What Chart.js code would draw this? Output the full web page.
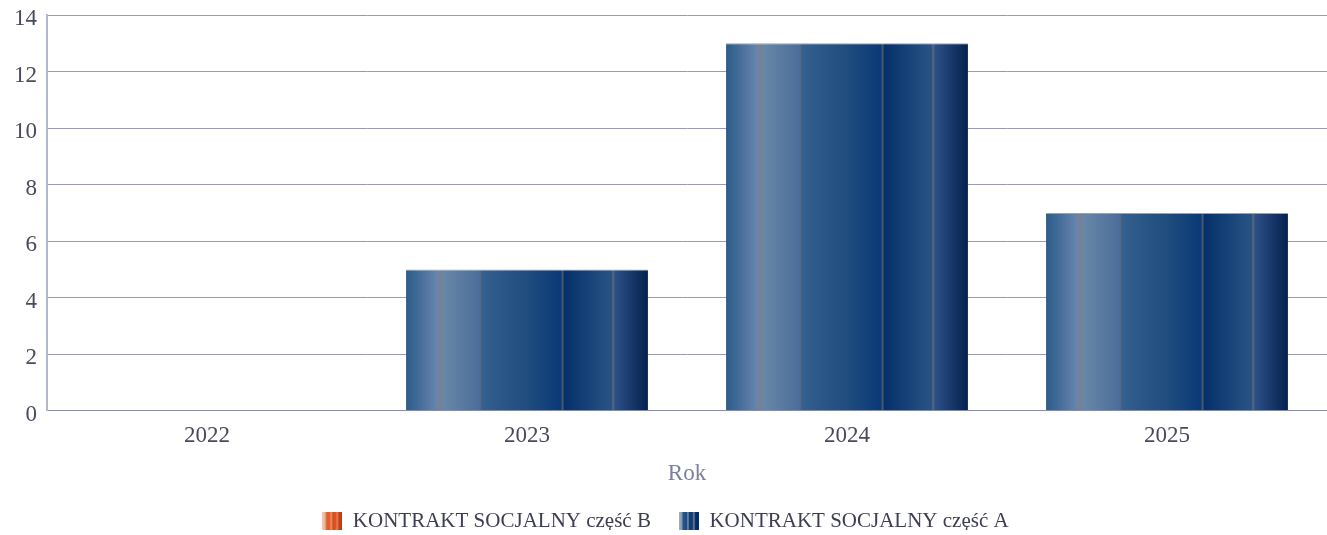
<!DOCTYPE html>
<html>
<head>
<meta charset="utf-8">
<script src="https://cdn.jsdelivr.net/npm/chart.js@4.4.1/dist/chart.umd.min.js"></script>
<style>
	html, body { margin: 0; padding: 0; background: #fff; }
	#wrap { width: 1327px; height: 535px; }
</style>
</head>
<body>
<div id="wrap"><canvas id="rokChart"></canvas></div>
<script>
var years	= ['2022', '2023', '2024', '2025'];
var partB	= [0, 0, 0, 0];
var partA	= [0, 5, 13, 7];
var yTicks	= [0, 2, 4, 6, 8, 10, 12, 14];
var labelB	= 'KONTRAKT SOCJALNY część B';
var labelA	= 'KONTRAKT SOCJALNY część A';

;(function (window, document, undefined) {
	'use strict';

	var BAR_PCT = 0.756;

	var blueStops = [
		[0, '#2a5c88'], [0.13, '#6a84ae'], [0.14, '#7b8088'], [0.152, '#6888a8'],
		[0.30, '#4c6e9a'], [0.305, '#5a6a80'], [0.315, '#34608f'], [0.50, '#204c7e'],
		[0.64, '#0a3a76'], [0.647, '#4a5a70'], [0.655, '#063069'], [0.80, '#1f4b80'],
		[0.85, '#2a5384'], [0.855, '#5a6a80'], [0.865, '#2c4f86'], [1, '#04214f']
	];
	var orangeStops = [
		[0, '#e87040'], [0.13, '#f0a078'], [0.14, '#b07060'], [0.152, '#f09870'],
		[0.30, '#e06a3a'], [0.315, '#e05a28'], [0.64, '#c84818'], [0.655, '#d05020'],
		[0.85, '#e06030'], [0.865, '#d85426'], [1, '#a83810']
	];

	function barFill(stops) {
		return function (ctx) {
			var chart = ctx.chart;
			var xs = chart.scales.x;
			if (!chart.chartArea || !xs || ctx.type !== 'data') {
				return stops[6][1];
			}
			var cx = xs.getPixelForValue(ctx.dataIndex);
			var w = xs.width / years.length * BAR_PCT;
			var g = chart.ctx.createLinearGradient(cx - w / 2, 0, cx + w / 2, 0);
			stops.forEach(function (s) { g.addColorStop(s[0], s[1]); });
			return g;
		};
	}

	// legend swatches, striped like the bars
	function swatch(cols) {
		var c = document.createElement('canvas');
		c.width = 20;
		c.height = 20;
		var x = c.getContext('2d');
		var g = x.createLinearGradient(0, 0, 20, 0);
		cols.forEach(function (s) { g.addColorStop(s[0], s[1]); });
		x.fillStyle = g;
		x.fillRect(0, 0, 20, 20);
		return c;
	}

	var swB = swatch([
		[0, '#f4c8b0'], [0.15, '#f0b090'], [0.2, '#e06030'], [0.4, '#e85c2a'],
		[0.45, '#f4c0a0'], [0.5, '#d04a1c'], [0.7, '#e05a28'], [0.75, '#f0a080'],
		[0.8, '#c84418'], [1, '#b83c12']
	]);
	var swA = swatch([
		[0, '#9db0cc'], [0.15, '#7f98bc'], [0.2, '#2a5588'], [0.4, '#1d4a80'],
		[0.45, '#a0b4d0'], [0.5, '#123d72'], [0.7, '#173f70'], [0.75, '#8ea4c4'],
		[0.8, '#0c3062'], [1, '#082a5a']
	]);

	// wide gap between legend items but keep the legend low
	var legendTrim = {
		id: 'legendTrim',
		beforeInit: function (chart) {
			var lg = chart.legend;
			var fit = lg.fit;
			var draw = lg.draw;
			lg.fit = function () {
				fit.call(this);
				this.height -= 12;
			};
			lg.draw = function () {
				var c = this.ctx;
				c.save();
				c.translate(0, -5);
				draw.apply(this, arguments);
				c.restore();
			};
		}
	};

	var serif = "'Liberation Serif', 'DejaVu Serif', serif";

	var ctx = document.getElementById('rokChart').getContext('2d');
	new Chart(ctx, {
		type: 'bar',
		data: {
			labels: years,
			datasets: [{
				label: labelB,
				data: partB,
				backgroundColor: barFill(orangeStops),
				pointStyle: swB,
				categoryPercentage: 1,
				barPercentage: BAR_PCT
			}, {
				label: labelA,
				data: partA,
				backgroundColor: barFill(blueStops),
				borderColor: '#86a6cc',
				borderWidth: { top: 1, left: 0, right: 0, bottom: 0 },
				borderSkipped: 'start',
				pointStyle: swA,
				categoryPercentage: 1,
				barPercentage: BAR_PCT
			}]
		},
		plugins: [legendTrim],
		options: {
			responsive: true,
			maintainAspectRatio: false,
			animation: false,
			layout: {
				padding: { left: 4, right: 0, top: 0, bottom: 0 }
			},
			plugins: {
				tooltip: { enabled: false },
				legend: {
					position: 'bottom',
					labels: {
						usePointStyle: true,
						boxWidth: 20,
						boxHeight: 20,
						padding: 28,
						color: '#3e3e52',
						font: { family: serif, size: 21 }
					}
				}
			},
			scales: {
				x: {
					stacked: true,
					grid: { display: false, drawTicks: false },
					border: { color: '#8a8cab', width: 1 },
					ticks: {
						color: '#4a4a5e',
						padding: 11,
						font: { family: serif, size: 23 }
					},
					title: {
						display: true,
						text: 'Rok',
						color: '#7b7fa0',
						padding: { top: 0, bottom: 0 },
						font: { family: serif, size: 23 }
					}
				},
				y: {
					stacked: true,
					min: 0,
					max: 14,
					afterBuildTicks: function (axis) {
						axis.ticks = yTicks.map(function (v) { return { value: v }; });
					},
					afterFit: function (axis) {
						axis.paddingTop = 15;
					},
					grid: { color: '#9a9ab6', drawTicks: false },
					border: { color: '#b4b8cc', width: 2 },
					ticks: {
						color: '#4a4a5e',
						padding: 10,
						labelOffset: 4,
						font: { family: serif, size: 23 }
					}
				}
			}
		}
	});

})(window, document);
</script>
</body>
</html>
